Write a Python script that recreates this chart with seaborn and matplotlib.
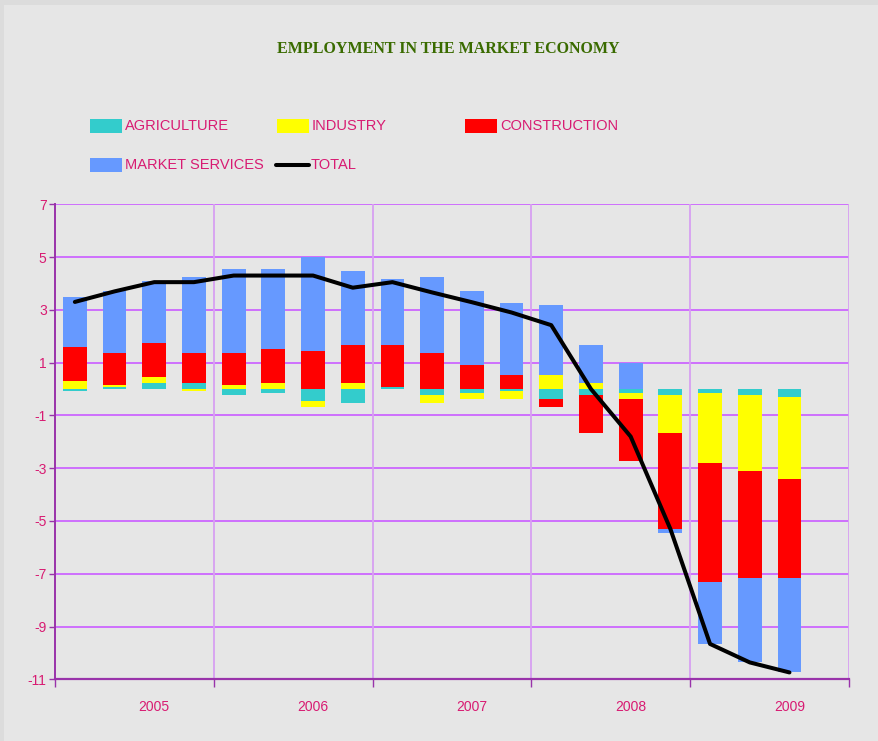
import numpy as np
import pandas as pd
import seaborn as sns
import matplotlib.pyplot as plt
from matplotlib.patches import Rectangle
from matplotlib.lines import Line2D

# quarterly contributions to employment growth (percentage points)
quarters = ['2005Q1', '2005Q2', '2005Q3', '2005Q4',
            '2006Q1', '2006Q2', '2006Q3', '2006Q4',
            '2007Q1', '2007Q2', '2007Q3', '2007Q4',
            '2008Q1', '2008Q2', '2008Q3', '2008Q4',
            '2009Q1', '2009Q2', '2009Q3']
years = ['2005', '2006', '2007', '2008', '2009']

agriculture = [-0.08, 0.08, 0.23, 0.23, -0.23, -0.15, -0.45, -0.53, 0.08, -0.23,
               -0.15, -0.08, -0.38, -0.23, -0.15, -0.23, -0.15, -0.23, -0.30]
industry = [0.30, 0.08, 0.23, -0.08, 0.15, 0.23, -0.23, 0.23, 0.00, -0.30,
            -0.23, -0.30, 0.53, 0.23, -0.23, -1.44, -2.65, -2.88, -3.11]
construction = [1.29, 1.21, 1.29, 1.14, 1.21, 1.29, 1.44, 1.44, 1.59, 1.36,
                0.91, 0.53, -0.30, -1.44, -2.35, -3.64, -4.51, -4.05, -3.75]
market_services = [1.89, 2.35, 2.35, 2.88, 3.18, 3.03, 3.56, 2.80, 2.50, 2.88,
                   2.80, 2.73, 2.65, 1.44, 0.98, -0.15, -2.35, -3.18, -3.56]
total = [3.30, 3.70, 4.05, 4.05, 4.30, 4.30, 4.30, 3.84, 4.05, 3.66,
         3.29, 2.90, 2.42, 0.00, -1.80, -5.30, -9.66, -10.36, -10.74]

series = [('AGRICULTURE', agriculture, '#33cccc'),
          ('INDUSTRY', industry, '#ffff00'),
          ('CONSTRUCTION', construction, '#ff0000'),
          ('MARKET SERVICES', market_services, '#6699ff')]

pink = '#d81b72'
purple = '#9933aa'
bg = '#e6e6e6'

sns.set_theme(style='white')
plt.rcParams['font.family'] = ['Liberation Sans', 'DejaVu Sans']
plt.rcParams['axes.unicode_minus'] = False

fig = plt.figure(figsize=(8.79, 7.41), dpi=100, facecolor=bg)
# slightly darker frame strips on top / left like the original
fig.patches.append(Rectangle((0, 1 - 5 / 741), 1, 5 / 741, transform=fig.transFigure,
                             facecolor='#dcdcdc', edgecolor='none', zorder=0))
fig.patches.append(Rectangle((0, 0), 4 / 879, 1, transform=fig.transFigure,
                             facecolor='#dcdcdc', edgecolor='none', zorder=0))

ax = fig.add_axes([55 / 879, 1 - 679.3 / 741, 794 / 879, 475 / 741])
ax.set_facecolor(bg)

df = pd.DataFrame({'quarter': quarters, 'total': total})
x = np.arange(len(quarters))

# stacked columns, positives upwards and negatives downwards, in series order
pos_base = np.zeros(len(x))
neg_base = np.zeros(len(x))
for name, vals, color in series:
    v = np.array(vals)
    bottom = np.where(v >= 0, pos_base, neg_base)
    ax.bar(x, v, bottom=bottom, width=0.6, color=color, linewidth=0, zorder=2)
    pos_base += np.clip(v, 0, None)
    neg_base += np.clip(v, None, 0)

sns.lineplot(x=x, y=df['total'], color='black', linewidth=2.9, ax=ax, zorder=3)

ax.set_xlim(-0.5, 19.5)
ax.set_ylim(-11, 7)
ax.set_yticks(range(-11, 8, 2))
ax.set_xticks([-0.5, 3.5, 7.5, 11.5, 15.5, 19.5])
ax.set_xticklabels([])
ax.set_xticks([2, 6, 10, 14, 18], minor=True)
ax.set_xticklabels(years, minor=True)
ax.set_xlabel('')
ax.set_ylabel('')

for yv in range(-9, 8, 2):
    ax.axhline(yv, color='#cc66ff', linewidth=1.3, zorder=1)
for xv in [3.5, 7.5, 11.5, 15.5, 19.5]:
    ax.axvline(xv, color='#d7a0f2', linewidth=1.3, zorder=1)

for s in ['top', 'right']:
    ax.spines[s].set_visible(False)
ax.spines['left'].set_color(purple)
ax.spines['left'].set_linewidth(1.4)
ax.spines['bottom'].set_color(purple)
ax.spines['bottom'].set_linewidth(1.6)

ax.tick_params(axis='y', which='major', left=True, direction='out', length=4, width=1,
               color=purple, labelcolor=pink, labelsize=10, pad=2)
ax.tick_params(axis='x', which='major', bottom=True, direction='out', length=6, width=1,
               color=purple)
ax.tick_params(axis='x', which='minor', bottom=True, length=0, labelcolor=pink,
               labelsize=10, pad=15)

# title
fig.text(448 / 879, 1 - 49 / 741, 'EMPLOYMENT IN THE MARKET ECONOMY', ha='center', va='center',
         fontsize=11.5, fontweight='bold', color='#3a6b00',
         family=['Liberation Serif', 'DejaVu Serif'])

# legend laid out like the spreadsheet's fixed grid
def fx(px):
    return px / 879

def fy(py):
    return 1 - py / 741

legend_items = [('AGRICULTURE', '#33cccc', 90, 126, 'box'),
                ('INDUSTRY', '#ffff00', 277, 126, 'box'),
                ('CONSTRUCTION', '#ff0000', 465, 126, 'box'),
                ('MARKET SERVICES', '#6699ff', 90, 165, 'box'),
                ('TOTAL', 'black', 276, 165, 'line')]
for label, color, px, py, kind in legend_items:
    if kind == 'box':
        fig.patches.append(Rectangle((fx(px), fy(py + 7)), 32 / 879, 14 / 741,
                                     transform=fig.transFigure, facecolor=color,
                                     edgecolor='none'))
    else:
        fig.lines.append(Line2D([fx(px), fx(px + 33)], [fy(py), fy(py)],
                                transform=fig.transFigure, color=color, linewidth=2.9))
    fig.text(fx(px + 35), fy(py), label, ha='left', va='center', fontsize=10.5, color=pink)

fig.savefig('out.png', dpi=100, facecolor=bg)
